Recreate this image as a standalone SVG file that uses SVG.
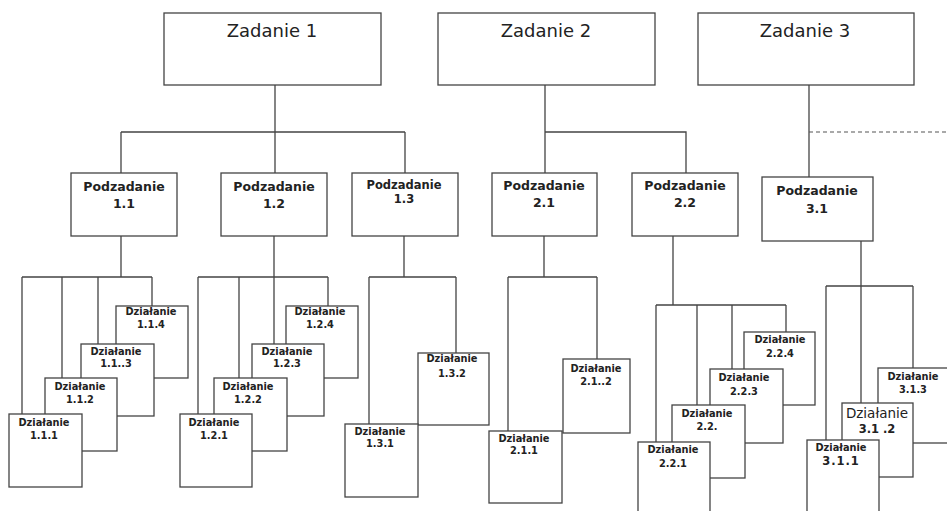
<svg xmlns="http://www.w3.org/2000/svg" width="947" height="511" viewBox="0 0 947 511">
<style>
.bg{fill:#fff}
.box{fill:#fff;stroke:#444;stroke-width:1.3}
.ln{fill:none;stroke:#444;stroke-width:1.3}
.dash{fill:none;stroke:#555;stroke-width:1.1;stroke-dasharray:4 3}
text{font-family:"DejaVu Sans","Verdana",sans-serif;fill:#222;text-anchor:middle}
.t1{font-size:18px}
.t2{font-size:12.5px;font-weight:bold}
.t2s{font-size:11.5px;font-weight:bold}
.t3{font-size:9.8px;font-weight:bold}
.t3b{font-size:13.5px}
.t3n{font-size:11.5px;font-weight:bold}
</style>
<rect class="bg" x="0" y="0" width="947" height="511"/>
<g id="connectors">
<path class="ln" d="M275 85V132M121 132H405M121 132V173M275 132V173M405 132V173"/>
<path class="ln" d="M545 85V173M545 132H686V173"/>
<path class="ln" d="M809 85V177"/>
<path class="dash" d="M809 132H947"/>
<path class="ln" d="M121 236V277M22 277H152M22 277V414M62 277V378M98 277V344M152 277V306"/>
<path class="ln" d="M274 236V277M198 277H328M198 277V414M239 277V378M274 277V344M328 277V306"/>
<path class="ln" d="M404 236V277M369 277H456M369 277V424M456 277V353"/>
<path class="ln" d="M544 236V277M508 277H597M508 277V431M597 277V359"/>
<path class="ln" d="M673 236V305M656 305H786M656 305V442M697 305V405M732 305V369M786 305V332"/>
<path class="ln" d="M861 241V403M826 286H913M826 286V440M913 286V368"/>
</g>
<g id="zadanie1"><rect class="box" x="164" y="13" width="217" height="72"/><text class="t1" x="272" y="37">Zadanie 1</text></g>
<g id="zadanie2"><rect class="box" x="438" y="13" width="217" height="72"/><text class="t1" x="546" y="37">Zadanie 2</text></g>
<g id="zadanie3"><rect class="box" x="698" y="13" width="216" height="72"/><text class="t1" x="805" y="37">Zadanie 3</text></g>
<g id="pod11"><rect class="box" x="71" y="173" width="106" height="63"/><text class="t2" x="124" y="191">Podzadanie</text><text class="t2" x="124" y="208">1.1</text></g>
<g id="pod12"><rect class="box" x="221" y="173" width="106" height="63"/><text class="t2" x="274" y="191">Podzadanie</text><text class="t2" x="274" y="208">1.2</text></g>
<g id="pod13"><rect class="box" x="352" y="173" width="106" height="63"/><text class="t2s" x="404" y="189">Podzadanie</text><text class="t2s" x="404" y="203">1.3</text></g>
<g id="pod21"><rect class="box" x="492" y="173" width="105" height="63"/><text class="t2" x="544" y="190">Podzadanie</text><text class="t2" x="544" y="207">2.1</text></g>
<g id="pod22"><rect class="box" x="632" y="173" width="106" height="63"/><text class="t2" x="685" y="190">Podzadanie</text><text class="t2" x="685" y="207">2.2</text></g>
<g id="pod31"><rect class="box" x="762" y="177" width="111" height="64"/><text class="t2" x="817" y="195">Podzadanie</text><text class="t2" x="817" y="213">3.1</text></g>
<g id="dz114"><rect class="box" x="116" y="306" width="72" height="72"/><text class="t3" x="151" y="315">Działanie</text><text class="t3" x="151" y="328">1.1.4</text></g>
<g id="dz113"><rect class="box" x="81" y="344" width="73" height="72"/><text class="t3" x="116" y="355">Działanie</text><text class="t3" x="116" y="367">1.1..3</text></g>
<g id="dz112"><rect class="box" x="45" y="378" width="72" height="73"/><text class="t3" x="80" y="390">Działanie</text><text class="t3" x="80" y="403">1.1.2</text></g>
<g id="dz111"><rect class="box" x="9" y="414" width="73" height="73"/><text class="t3" x="44" y="426">Działanie</text><text class="t3" x="44" y="439">1.1.1</text></g>
<g id="dz124"><rect class="box" x="286" y="306" width="72" height="72"/><text class="t3" x="320" y="315">Działanie</text><text class="t3" x="320" y="328">1.2.4</text></g>
<g id="dz123"><rect class="box" x="252" y="344" width="72" height="72"/><text class="t3" x="287" y="355">Działanie</text><text class="t3" x="287" y="367">1.2.3</text></g>
<g id="dz122"><rect class="box" x="214" y="378" width="73" height="73"/><text class="t3" x="248" y="390">Działanie</text><text class="t3" x="248" y="403">1.2.2</text></g>
<g id="dz121"><rect class="box" x="180" y="414" width="72" height="73"/><text class="t3" x="214" y="426">Działanie</text><text class="t3" x="214" y="439">1.2.1</text></g>
<g id="dz132"><rect class="box" x="418" y="353" width="71" height="72"/><text class="t3" x="452" y="362">Działanie</text><text class="t3" x="452" y="377">1.3.2</text></g>
<g id="dz131"><rect class="box" x="345" y="424" width="73" height="73"/><text class="t3" x="380" y="435">Działanie</text><text class="t3" x="380" y="447">1.3.1</text></g>
<g id="dz212"><rect class="box" x="563" y="359" width="67" height="74"/><text class="t3" x="596" y="372">Działanie</text><text class="t3" x="596" y="385">2.1..2</text></g>
<g id="dz211"><rect class="box" x="489" y="431" width="73" height="72"/><text class="t3" x="524" y="442">Działanie</text><text class="t3" x="524" y="454">2.1.1</text></g>
<g id="dz224"><rect class="box" x="744" y="332" width="71" height="73"/><text class="t3" x="780" y="343">Działanie</text><text class="t3" x="780" y="357">2.2.4</text></g>
<g id="dz223"><rect class="box" x="710" y="369" width="73" height="74"/><text class="t3" x="744" y="381">Działanie</text><text class="t3" x="744" y="395">2.2.3</text></g>
<g id="dz22"><rect class="box" x="672" y="405" width="73" height="73"/><text class="t3" x="707" y="417">Działanie</text><text class="t3" x="707" y="430">2.2.</text></g>
<g id="dz221"><rect class="box" x="638" y="442" width="72" height="80"/><text class="t3" x="673" y="453">Działanie</text><text class="t3" x="673" y="467">2.2.1</text></g>
<g id="dz313"><rect class="box" x="878" y="368" width="80" height="75"/><text class="t3" x="913" y="380">Działanie</text><text class="t3" x="913" y="393">3.1.3</text></g>
<g id="dz312"><rect class="box" x="842" y="403" width="71" height="74"/><text class="t3b" x="877" y="418">Działanie</text><text class="t3n" x="877" y="433">3.1 .2</text></g>
<g id="dz311"><rect class="box" x="807" y="440" width="72" height="80"/><text class="t3" x="841" y="451">Działanie</text><text class="t3n" x="841" y="465" letter-spacing="1">3.1.1</text></g>
</svg>
